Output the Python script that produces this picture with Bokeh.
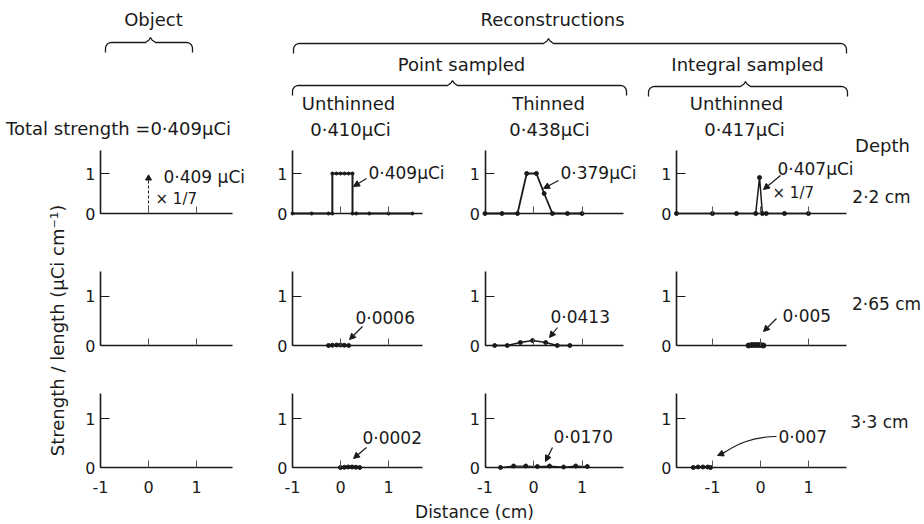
import numpy as np
from bokeh.plotting import figure
from bokeh.models import Range1d, LinearAxis, FixedTicker, Label, Arrow, NormalHead
from bokeh.embed import file_html
from bokeh.resources import INLINE

# ---------------- data ----------------
x_ticks = [-1, 0, 1]
y_ticks = [0, 1]
x_tick_labels = ["-1", "0", "1"]

# Object: delta-function source at 0 (drawn scaled x 1/7)
obj_x = [0.0]
obj_h = [0.88]

# depth 2.2 cm
r1_pu_x = [-1.0, -0.6, -0.25, -0.17, -0.17, -0.085, 0.0, 0.085, 0.17, 0.25, 0.25, 0.33, 0.6, 1.0, 1.5]
r1_pu_y = [0.0, 0.0, 0.0, 0.0, 1.0, 1.0, 1.0, 1.0, 1.0, 1.0, 0.0, 0.0, 0.0, 0.0, 0.0]
r1_pt_x = [-1.0, -0.65, -0.33, -0.14, 0.06, 0.22, 0.39, 0.7, 1.0]
r1_pt_y = [0.0, 0.0, 0.0, 1.0, 1.0, 0.5, 0.0, 0.0, 0.0]
r1_iu_x = [-1.75, -1.0, -0.5, -0.1, -0.02, 0.04, 0.12, 0.5, 1.0]
r1_iu_y = [0.0, 0.0, 0.0, 0.0, 0.9, 0.0, 0.0, 0.0, 0.0]

# depth 2.65 cm
r2_pu_x = [-0.25, -0.17, -0.08, 0.0, 0.08, 0.17]
r2_pu_y = [0.0, 0.005, 0.01, 0.01, 0.005, 0.0]
r2_pt_x = [-0.8, -0.54, -0.27, -0.02, 0.25, 0.49, 0.75]
r2_pt_y = [0.0, 0.0, 0.06, 0.1, 0.06, 0.0, 0.0]
r2_iu_x = [-0.25, -0.18, -0.12, -0.06, 0.0, 0.06]
r2_iu_y = [0.0, 0.01, 0.01, 0.01, 0.01, 0.0]

# depth 3.3 cm
r3_pu_x = [0.0, 0.08, 0.16, 0.24, 0.32, 0.4]
r3_pu_y = [0.0, 0.005, 0.01, 0.01, 0.005, 0.0]
r3_pt_x = [-0.68, -0.41, -0.16, 0.08, 0.33, 0.62, 0.87, 1.11]
r3_pt_y = [0.0, 0.03, 0.03, 0.02, 0.03, 0.01, 0.03, 0.02]
r3_iu_x = [-1.4, -1.3, -1.2, -1.1, -1.04]
r3_iu_y = [0.0, 0.01, 0.01, 0.01, 0.0]

FONT = "DejaVu Sans"
INK = "#1a1a1a"

# ---------------- layout (page pixel coordinates) ----------------
L, R, T, B = 0, 924, 0, 524
p = figure(width=R - L, height=B - T, x_range=Range1d(L, R), y_range=Range1d(B, T),
           output_backend="svg", toolbar_location=None, min_border=0,
           x_axis_location=None, y_axis_location=None)
p.grid.visible = False
p.outline_line_color = None
p.background_fill_color = "white"

# columns: (pixel of x=0, pixels per cm, axis start, axis end)
cols = {"c1": (148, 48.0, -1.0, 1.75),
        "c2": (340, 48.0, -1.0, 1.7),
        "c3": (533, 48.5, -1.0, 1.85),
        "c4": (760, 48.0, -1.75, 1.8)}
# rows: (pixel of y=0, pixels per unit, axis top)
rows = {"r1": (213, 40.0, 1.58),
        "r2": (345, 49.5, 1.5),
        "r3": (467, 49.0, 1.52)}

for n, (X0, u, _, _) in cols.items():
    p.extra_x_ranges[n] = Range1d((L - X0) / u, (R - X0) / u)
for n, (Y0, u, _) in rows.items():
    p.extra_y_ranges[n] = Range1d((Y0 - B) / u, (Y0 - T) / u)

for rn, (Y0, uy, top) in rows.items():
    for cn, (X0, ux, x_lo, x_hi) in cols.items():
        bottom = rn == "r3"
        xa = LinearAxis(x_range_name=cn, y_range_name=rn, fixed_location=0,
                        bounds=(x_lo, x_hi), ticker=FixedTicker(ticks=x_ticks),
                        major_label_overrides={t: (lab if bottom else "") for t, lab in zip(x_ticks, x_tick_labels)},
                        major_tick_in=7, major_tick_out=0, minor_tick_line_color=None,
                        axis_line_width=1.6, axis_line_color=INK,
                        major_tick_line_color="#555555", major_tick_line_width=1,
                        major_label_text_font=FONT, major_label_text_font_size="16px",
                        major_label_text_color=INK, major_label_standoff=13)
        p.add_layout(xa, "below")
        ya = LinearAxis(x_range_name=cn, y_range_name=rn, fixed_location=x_lo,
                        bounds=(0, top), ticker=FixedTicker(ticks=y_ticks),
                        major_label_overrides={0: "0", 1: "1"},
                        major_tick_in=9, major_tick_out=0, minor_tick_line_color=None,
                        axis_line_width=1.6, axis_line_color=INK,
                        major_tick_line_color=INK, major_tick_line_width=1.2,
                        major_label_text_font=FONT, major_label_text_font_size="16px",
                        major_label_text_color=INK, major_label_standoff=5)
        p.add_layout(ya, "left")

# ---------------- data marks ----------------
def curve(xs, ys, cn, rn, lw=1.6, size=4):
    p.line(xs, ys, x_range_name=cn, y_range_name=rn, line_color=INK, line_width=lw)
    p.scatter(xs, ys, x_range_name=cn, y_range_name=rn, size=size, marker="circle",
              fill_color=INK, line_color=INK)

# object impulse (arrow, dashed stem)
p.segment(x0=obj_x, y0=[0.0], x1=obj_x, y1=obj_h, x_range_name="c1", y_range_name="r1",
          line_color=INK, line_width=1, line_dash="3 2")
p.scatter(obj_x, obj_h, x_range_name="c1", y_range_name="r1", marker="triangle",
          size=6, fill_color=INK, line_color=INK)

curve(r1_pu_x, r1_pu_y, "c2", "r1", lw=2.0, size=3)
curve(r1_pt_x, r1_pt_y, "c3", "r1", lw=1.8, size=4)
curve(r1_iu_x, r1_iu_y, "c4", "r1", lw=1.5, size=4)
curve(r2_pu_x, r2_pu_y, "c2", "r2", lw=2.5, size=4)
curve(r2_pt_x, r2_pt_y, "c3", "r2", lw=1.5, size=4)
curve(r2_iu_x, r2_iu_y, "c4", "r2", lw=3.0, size=5)
curve(r3_pu_x, r3_pu_y, "c2", "r3", lw=2.5, size=4)
curve(r3_pt_x, r3_pt_y, "c3", "r3", lw=1.2, size=4)
curve(r3_iu_x, r3_iu_y, "c4", "r3", lw=2.0, size=4)

# ---------------- header braces ----------------
def brace(x0, x1, xm, y, r=6.0, drop=4.0, tip=5.0):
    t = np.linspace(0, np.pi / 2, 9)
    xs = [x0] + list(x0 + r - r * np.cos(t))
    ys = [y + r + drop] + list(y + r - r * np.sin(t))
    xs += [xm - tip, xm - 1.5, xm, xm + 1.5, xm + tip]
    ys += [y, y - 2.5, y - 5, y - 2.5, y]
    xs += list(x1 - r + r * np.sin(t)) + [x1]
    ys += list(y + r - r * np.cos(t)) + [y + r + drop]
    p.line(xs, ys, line_color=INK, line_width=1.3)

brace(105, 192, 150, 42)
brace(293, 846, 548, 43)
brace(292, 626, 452, 85)
brace(648, 847, 745, 86)

def text(x, y, s, size=18, align="center", angle=0.0):
    p.add_layout(Label(x=x, y=y, text=s, text_font=FONT, text_font_size=f"{size}px",
                       text_color=INK, text_align=align, text_baseline="middle", angle=angle))

text(153, 19, "Object")
text(552, 19, "Reconstructions")
text(461, 64, "Point sampled")
text(747, 64, "Integral sampled")
text(348, 103, "Unthinned")
text(548, 103, "Thinned")
text(736, 103, "Unthinned")
text(118, 128, "Total strength =0·409μCi")
text(350, 129, "0·410μCi")
text(549, 129, "0·438μCi")
text(744, 129, "0·417μCi")
text(882, 145, "Depth")
text(881, 196, "2·2 cm", 17)
text(886, 303, "2·65 cm", 17)
text(879, 421, "3·3 cm", 17)
text(57, 330, "Strength / length (μCi cm⁻¹)", 18, angle=np.pi / 2)
text(474, 511, "Distance (cm)", 17)

# ---------------- panel annotations ----------------
text(163, 176, "0·409 μCi", 17, "left")
text(155, 198, "× 1/7", 15, "left")
text(368, 172, "0·409μCi", 17, "left")
text(560, 172, "0·379μCi", 17, "left")
text(777, 168, "0·407μCi", 17, "left")
text(772, 192, "× 1/7", 15, "left")
text(355, 317, "0·0006", 17, "left")
text(550, 316, "0·0413", 17, "left")
text(782, 315, "0·005", 17, "left")
text(362, 437, "0·0002", 17, "left")
text(553, 436, "0·0170", 17, "left")
text(778, 436, "0·007", 17, "left")

def arrow(xs, ys, xe, ye):
    p.add_layout(Arrow(x_start=xs, y_start=ys, x_end=xe, y_end=ye, line_color=INK, line_width=1.2,
                       end=NormalHead(size=6, fill_color=INK, line_color=INK)))

arrow(366, 178, 353, 186)
arrow(558, 180, 543, 188)
arrow(780, 175, 763, 189)
arrow(362, 326, 349, 339)
arrow(557, 327, 549, 337)
arrow(776, 318, 763, 331)
arrow(366, 447, 353, 458)
arrow(552, 447, 545, 461)
p.bezier(x0=[776], y0=[436], x1=[722], y1=[453], cx0=[748], cy0=[436], cx1=[732], cy1=[447],
         line_color=INK, line_width=1.2)
arrow(724, 452, 717, 455)

open("out.html", "w").write(file_html(p, INLINE))
